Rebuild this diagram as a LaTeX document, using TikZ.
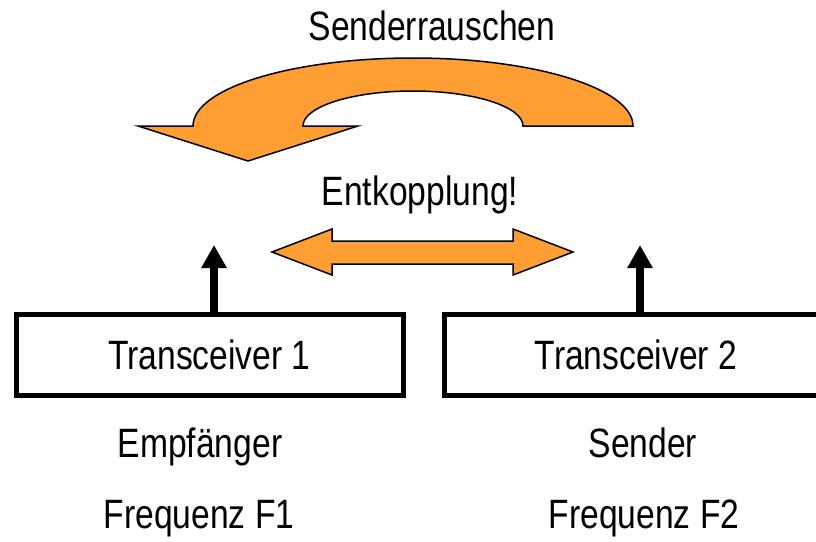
\documentclass[tikz,border=0pt]{standalone}
\usepackage{fontspec}
\setmainfont{Liberation Sans}[FakeStretch=0.82]
\usetikzlibrary{arrows.meta}
\definecolor{arrowfill}{RGB}{255,158,51}
\tikzset{
  lbl/.style={anchor=base, inner sep=0pt, font=\fontsize{41}{48}\selectfont},
  tbox/.style={draw=black, line width=5pt, minimum width=387pt, minimum height=81pt,
    inner sep=0pt, font=\fontsize{41}{48}\selectfont},
  bigshape/.style={fill=arrowfill, draw=black, line width=1.5pt, line join=miter},
  uparrow/.style={line width=7.5pt, -{Triangle[width=24pt,length=23pt]}}
}
\begin{document}
\begin{tikzpicture}[x=1pt,y=-1pt]
\useasboundingbox (0,0) rectangle (816,541);
\clip (0,0) rectangle (816,541);
% curved arrow
\draw[bigshape] (138,126) -- (248,161) -- (358,126) -- (303,126)
  arc[start angle=180, end angle=0, x radius=110pt, y radius=35pt]
  -- (633,126)
  arc[start angle=0, end angle=180, x radius=220pt, y radius=68pt]
  -- cycle;
% double arrow
\draw[bigshape] (272,252) -- (332,229) -- (332,241) -- (513,241) -- (513,229)
  -- (573,252) -- (513,275) -- (513,264) -- (332,264) -- (332,275) -- cycle;
% texts
\node[lbl] (sr) at (432,40) {Senderrauschen};
\node[lbl] (ek) at (420,205) {Entkopplung!};
\node[lbl] (em) at (200,457) {Empfänger};
\node[lbl] (f1) at (199,528) {Frequenz F1};
\node[lbl] (se) at (643,457) {Sender};
\node[lbl] (f2) at (644,528) {Frequenz F2};
% boxes
\node[tbox] (b1) at (209.5,355) {Transceiver 1};
\node[tbox, minimum width=430pt] (b2) at (659.5,355) {};
\node[inner sep=0pt, font=\fontsize{41}{48}\selectfont] (b2t) at (636,355) {Transceiver 2};
% up arrows
\coordinate (t1) at (214,245);
\coordinate (t2) at (640,245);
\draw[uparrow] (t1 |- b1.north) -- (t1);
\draw[uparrow] (t2 |- b2.north) -- (t2);
\end{tikzpicture}
\end{document}
